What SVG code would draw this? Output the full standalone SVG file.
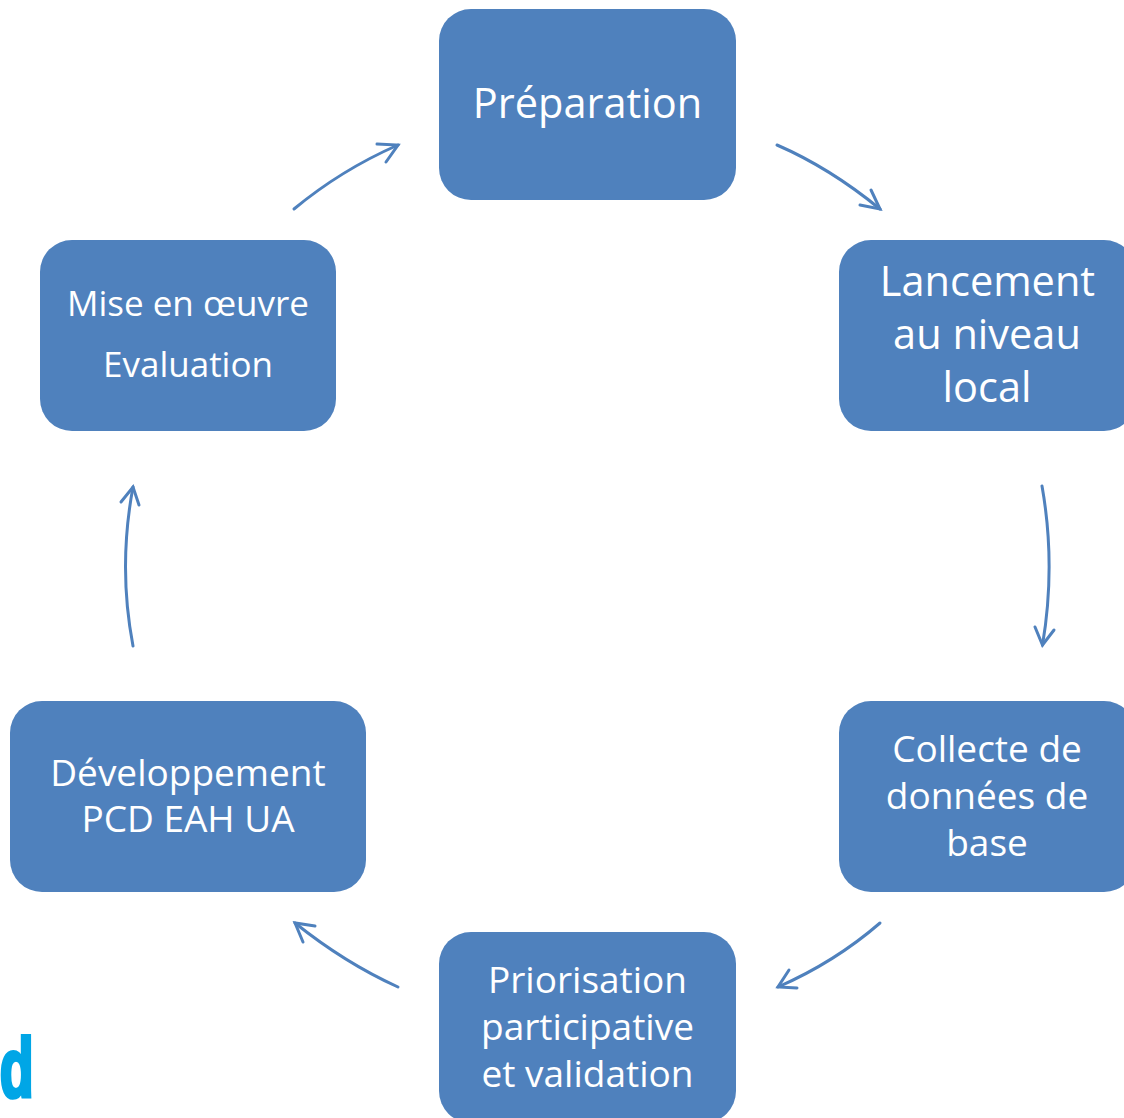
<svg xmlns="http://www.w3.org/2000/svg" width="1124" height="1118" viewBox="0 0 1124 1118">
<style>
.b{fill:#4f81bd}
text{fill:#fff;font-family:"Open Sans","Liberation Sans",sans-serif;text-anchor:middle}
.c{fill:none;stroke:#4f81bd;stroke-width:3;stroke-linecap:round;stroke-linejoin:miter}
</style>
<rect width="1124" height="1118" fill="#fff"/>
<g id="connectors" class="c">
<path d="M777 145Q830 168 880 209"/><path d="M871 190L880 209L860 205"/>
<path d="M1042 486Q1056 565 1042.500 645"/><path d="M1035 627L1042.500 645L1054 630"/>
<path d="M880 923Q835 962 778 987"/><path d="M789 970L778 987L797 988"/>
<path d="M398 987Q345 963 295 923"/><path d="M315 926L295 923L303 942"/>
<path d="M133 646Q118 567 133 487"/><path d="M121 502L133 487L139 505"/>
<path d="M294 209Q341 170 398 145"/><path d="M377 144L398 145L386 162"/>
</g>
<g id="preparation"><rect class="b" x="439" y="9" width="297" height="191" rx="32"/><text x="587.500" y="118" font-size="41.500">Préparation</text></g>
<g id="lancement"><rect class="b" x="839" y="240" width="297" height="191" rx="32"/><text x="987.500" y="296" font-size="41.500">Lancement</text><text x="987" y="349" font-size="41.500">au niveau</text><text x="987" y="402" font-size="41.500">local</text></g>
<g id="collecte"><rect class="b" x="839" y="701" width="297" height="191" rx="32"/><text x="987" y="762" font-size="37">Collecte de</text><text x="987" y="809" font-size="37">données de</text><text x="987" y="856" font-size="37">base</text></g>
<g id="priorisation"><rect class="b" x="439" y="932" width="297" height="191" rx="32"/><text x="587.500" y="993" font-size="37">Priorisation</text><text x="587.500" y="1040" font-size="37">participative</text><text x="587.500" y="1087" font-size="37">et validation</text></g>
<g id="developpement"><rect class="b" x="10" y="701" width="356" height="191" rx="32"/><text x="188" y="786" font-size="37">Développement</text><text x="188" y="832" font-size="37">PCD EAH UA</text></g>
<g id="miseenoeuvre"><rect class="b" x="40" y="240" width="296" height="191" rx="32"/><text x="188" y="316" font-size="35">Mise en œuvre</text><text x="188" y="377" font-size="35">Evaluation</text></g>
<g id="logo"><text transform="translate(33.500,1097) scale(.66,1)" stroke="#00a6e6" stroke-width="4" style="fill:#00a6e6;text-anchor:end;font-family:'Liberation Sans',sans-serif;font-weight:700" font-size="84">d</text></g>
</svg>
